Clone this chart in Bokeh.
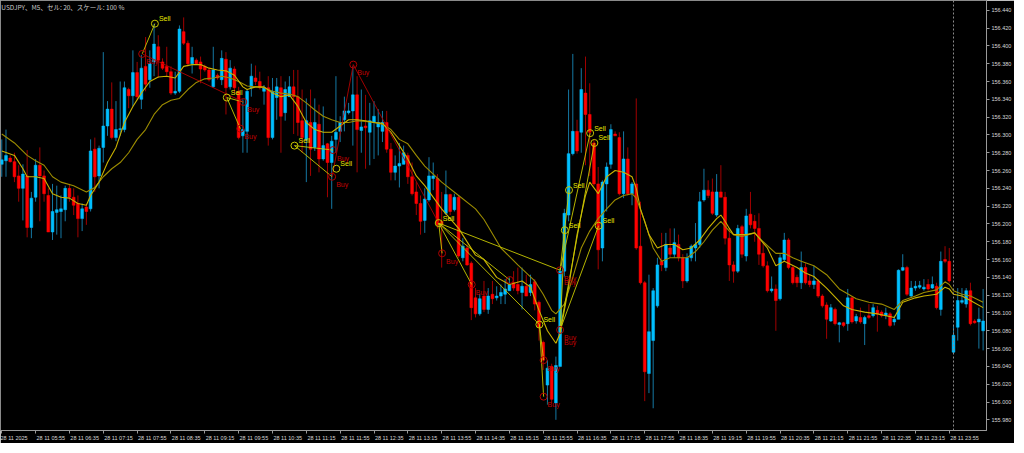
from bokeh.plotting import figure
from bokeh.models import (ColumnDataSource, FixedTicker, Range1d, Span, Label, LinearAxis,
                          NumeralTickFormatter)
from bokeh.embed import file_html
from bokeh.resources import INLINE
from bokeh.core.properties import value

# ---------------- data (USDJPY M5, 28.11.2025 05:15 -> 29.11 00:35) ----------------
opens = [156.267,156.271,156.274,156.270,156.254,156.240,156.254,156.196,156.230,156.266,
156.254,156.232,156.191,156.213,156.214,156.216,156.240,156.230,156.223,156.206,
156.219,156.217,156.284,156.254,156.286,156.310,156.329,156.297,156.306,156.306,
156.351,156.344,156.370,156.340,156.377,156.362,156.382,156.399,156.382,156.377,
156.371,156.347,156.349,156.416,156.403,156.380,156.384,156.382,156.377,156.373,
156.354,156.367,156.362,156.385,156.354,156.374,156.349,156.299,156.304,156.353,
156.364,156.360,156.349,156.353,156.297,156.342,156.353,156.325,156.343,156.354,
156.343,156.316,156.295,156.314,156.286,156.312,156.273,156.290,156.269,156.295,
156.304,156.317,156.325,156.327,156.345,156.305,156.310,156.303,156.314,156.309,
156.304,156.314,156.284,156.258,156.265,156.267,156.277,156.253,156.236,156.223,
156.204,156.227,156.251,156.251,156.203,156.212,156.233,156.216,156.230,156.162,
156.173,156.156,156.117,156.099,156.119,156.104,156.121,156.117,156.119,156.121,
156.125,156.134,156.132,156.123,156.130,156.123,156.135,156.112,156.067,156.019,
156.040,155.999,156.040,156.147,156.210,156.279,156.304,156.303,156.347,156.323,
156.291,156.245,156.173,156.245,156.267,156.301,156.297,156.234,156.273,156.234,
156.245,156.175,156.134,156.032,156.069,156.108,156.158,156.151,156.173,156.166,
156.177,156.162,156.136,156.162,156.173,156.177,156.227,156.238,156.236,156.210,
156.236,156.230,156.184,156.154,156.147,156.197,156.164,156.211,156.203,156.195,
156.167,156.153,156.125,156.127,156.116,156.160,156.182,156.151,156.140,156.134,
156.151,156.136,156.132,156.136,156.119,156.109,156.091,156.104,156.087,156.089,
156.088,156.117,156.091,156.095,156.088,156.097,156.097,156.103,156.101,156.097,
156.099,156.090,156.093,156.148,156.151,156.119,156.128,156.129,156.127,156.132,
156.128,156.130,156.104,156.160,156.158,156.056,156.084,156.112,156.110,156.125,
156.091,156.090,156.080]
highs = [156.295,156.306,156.277,156.280,156.266,156.267,156.283,156.236,156.273,156.286,
156.260,156.240,156.245,156.243,156.232,156.243,156.245,156.240,156.232,156.223,
156.223,156.295,156.297,156.288,156.393,156.338,156.359,156.338,156.360,156.360,
156.353,156.395,156.382,156.390,156.410,156.395,156.425,156.412,156.386,156.399,
156.377,156.371,156.423,156.432,156.406,156.399,156.386,156.388,156.379,156.375,
156.399,156.369,156.395,156.393,156.384,156.377,156.354,156.340,156.351,156.380,
156.378,156.371,156.356,156.366,156.364,156.364,156.366,156.360,156.366,156.373,
156.373,156.351,156.341,156.351,156.341,156.334,156.332,156.291,156.299,156.366,
156.321,156.343,156.336,156.377,156.366,156.351,156.345,156.336,156.338,156.329,
156.327,156.327,156.291,156.277,156.291,156.288,156.280,156.269,156.247,156.232,
156.240,156.275,156.269,156.256,156.236,156.260,156.234,156.234,156.232,156.184,
156.177,156.158,156.128,156.121,156.136,156.128,156.136,156.130,156.132,156.138,
156.140,156.147,156.151,156.151,156.143,156.143,156.138,156.114,156.069,156.047,
156.043,156.051,156.151,156.217,156.351,156.391,156.317,156.375,156.388,156.358,
156.295,156.264,156.249,156.269,156.312,156.304,156.303,156.304,156.286,156.247,
156.341,156.225,156.136,156.143,156.128,156.162,156.190,156.190,156.195,156.195,
156.188,156.166,156.167,156.177,156.201,156.236,156.262,156.249,156.251,156.256,
156.266,156.236,156.195,156.158,156.199,156.199,156.217,156.236,156.210,156.212,
156.180,156.158,156.141,156.132,156.166,156.190,156.184,156.153,156.143,156.169,
156.156,156.143,156.153,156.138,156.121,156.112,156.110,156.106,156.090,156.090,
156.127,156.119,156.099,156.106,156.097,156.110,156.110,156.108,156.103,156.106,
156.101,156.097,156.149,156.166,156.153,156.136,156.136,156.136,156.138,156.138,
156.141,156.134,156.169,156.175,156.173,156.086,156.128,156.128,156.128,156.134,
156.093,156.106,156.127]
lows = [156.253,156.253,156.269,156.247,156.225,156.204,156.185,156.184,156.225,156.203,
156.225,156.191,156.182,156.188,156.184,156.203,156.225,156.210,156.185,156.192,
156.199,156.214,156.236,156.240,156.269,156.299,156.295,156.293,156.299,156.303,
156.330,156.332,156.340,156.329,156.349,156.353,156.366,156.364,156.373,156.366,
156.345,156.345,156.347,156.401,156.377,156.369,156.379,156.358,156.371,156.360,
156.353,156.362,156.356,156.323,156.351,156.347,156.295,156.280,156.280,156.343,
156.356,156.351,156.334,156.288,156.295,156.317,156.280,156.316,156.343,156.301,
156.299,156.280,156.247,156.254,156.282,156.258,156.271,156.230,156.217,156.280,
156.292,156.304,156.323,156.288,156.258,156.280,156.262,156.266,156.273,156.277,
156.292,156.280,156.249,156.249,156.241,156.267,156.245,156.232,156.210,156.188,
156.190,156.225,156.238,156.195,156.151,156.210,156.210,156.214,156.162,156.158,
156.153,156.092,156.095,156.097,156.101,156.099,156.110,156.114,156.110,156.110,
156.125,156.125,156.121,156.104,156.119,156.119,156.103,156.069,156.036,155.997,
155.999,155.980,156.040,156.140,156.203,156.277,156.279,156.280,156.266,156.254,
156.243,156.149,156.158,156.214,156.262,156.299,156.232,156.229,156.232,156.221,
156.171,156.132,156.001,156.010,155.993,156.106,156.147,156.147,156.162,156.162,
156.158,156.128,156.134,156.158,156.158,156.173,156.225,156.229,156.210,156.208,
156.230,156.177,156.136,156.134,156.145,156.162,156.158,156.195,156.180,156.154,
156.151,156.123,156.123,156.080,156.114,156.158,156.149,156.132,156.129,156.127,
156.132,156.129,156.127,156.117,156.106,156.071,156.090,156.086,156.067,156.084,
156.080,156.088,156.088,156.088,156.064,156.093,156.095,156.079,156.095,156.093,
156.084,156.086,156.093,156.147,156.119,156.117,156.125,156.127,156.125,156.125,
156.127,156.104,156.097,156.156,156.134,156.054,156.069,156.110,156.106,156.086,
156.088,156.060,156.058]
closes = [156.272,156.277,156.270,156.253,156.240,156.256,156.196,156.229,156.266,156.254,
156.234,156.191,156.214,156.216,156.217,156.240,156.230,156.221,156.206,156.217,
156.214,156.282,156.253,156.285,156.310,156.329,156.297,156.306,156.307,156.353,
156.344,156.370,156.343,156.375,156.357,156.380,156.402,156.384,156.375,156.371,
156.347,156.349,156.419,156.403,156.380,156.387,156.380,156.374,156.373,156.362,
156.373,156.364,156.386,156.353,156.375,156.353,156.297,156.306,156.349,156.366,
156.360,156.353,156.353,156.297,156.349,156.354,156.321,156.351,156.354,156.343,
156.314,156.297,156.316,156.284,156.314,156.273,156.288,156.269,156.293,156.303,
156.314,156.327,156.327,156.345,156.306,156.309,156.308,156.316,156.321,156.314,
156.314,156.284,156.258,156.265,156.268,156.280,156.253,156.234,156.223,156.203,
156.228,156.254,156.254,156.199,156.199,156.233,156.214,156.230,156.164,156.175,
156.154,156.106,156.099,156.116,156.104,156.119,156.116,156.119,156.123,156.127,
156.132,156.128,156.125,156.130,156.119,156.132,156.110,156.084,156.047,156.038,
156.003,156.041,156.147,156.212,156.279,156.304,156.282,156.351,156.323,156.303,
156.245,156.171,156.247,156.264,156.306,156.299,156.234,156.273,156.234,156.245,
156.173,156.134,156.034,156.079,156.125,156.154,156.154,156.177,156.166,156.179,
156.162,156.136,156.162,156.175,156.177,156.225,156.238,156.232,156.212,156.236,
156.230,156.184,156.154,156.147,156.195,156.166,156.209,156.199,156.195,156.166,
156.153,156.125,156.127,156.114,156.162,156.182,156.151,156.134,156.134,156.151,
156.134,156.132,156.136,156.119,156.108,156.093,156.106,156.088,156.089,156.086,
156.117,156.090,156.096,156.090,156.095,156.095,156.106,156.099,156.097,156.100,
156.086,156.093,156.148,156.151,156.121,156.128,156.130,156.131,156.129,156.127,
156.132,156.106,156.158,156.158,156.136,156.075,156.114,156.114,156.125,156.088,
156.089,156.093,156.091]

# moving averages, read at sample bars
ma_slow_bar = [0,3,6,8,10,12,14,17,20,22,24,26,28,30,32,34,36,38,40,42,44,46,48,50,52,54,56,
58,60,62,64,66,68,70,72,74,76,78,80,82,84,86,88,90,92,94,96,98,100,104,108,112,114,
118,122,126,128,130,131,133,135,137,139,141,143,145,147,149,150,152,154,156,158,160,162,164,166,168,170,172,
173,175,178,180,183,185,187,189,192,195,198,202,205,208,211,213,216,218,221,223,224,225,227,229,232]
ma_slow_val = [156.301,156.291,156.277,156.271,156.266,156.253,156.247,156.243,156.236,156.241,156.253,156.262,156.269,156.280,156.295,156.306,156.323,156.334,156.339,156.341,156.351,156.359,156.363,156.364,156.366,156.364,156.360,
156.355,156.354,156.353,156.349,156.347,156.346,156.343,156.336,156.328,156.321,156.317,156.314,156.314,156.316,156.315,156.314,156.312,156.306,156.295,156.290,156.277,156.265,156.247,156.232,156.217,156.205,
156.173,156.154,156.136,156.121,156.103,156.099,156.110,156.140,156.173,156.192,156.206,156.217,156.227,156.232,156.234,156.229,156.203,156.173,156.158,156.162,156.162,156.162,156.169,156.180,156.193,156.203,156.192,
156.188,156.186,156.190,156.180,156.167,156.167,156.162,156.158,156.153,156.143,156.127,156.116,156.112,156.110,156.104,156.114,156.119,156.123,156.126,156.135,156.132,156.125,156.121,156.119,156.112]
ma_fast_bar = [0,3,5,6,8,10,12,14,16,18,20,21,23,25,27,29,31,33,35,37,39,41,43,45,47,49,51,53,55,57,
58,60,62,64,66,68,70,72,74,76,78,80,82,84,86,88,90,92,94,96,98,100,104,108,112,114,
117,120,123,125,127,129,131,132,134,136,138,139,141,143,145,147,149,150,151,153,155,157,159,161,163,165,167,169,170,171,172,
173,176,178,181,183,185,188,190,192,195,199,201,204,207,211,213,216,218,221,223,224,225,227,229,232]
ma_fast_val = [156.282,156.277,156.262,156.253,156.253,156.251,156.234,156.230,156.229,156.223,156.221,156.232,156.247,156.269,156.286,156.314,156.332,156.347,156.360,156.365,156.366,156.364,156.377,156.379,156.379,156.375,156.373,156.372,156.367,156.354,
156.351,156.354,156.354,156.347,156.343,156.345,156.332,156.314,156.306,156.303,156.303,156.310,156.317,156.317,156.316,156.314,156.313,156.303,156.288,156.273,156.254,156.243,156.217,156.195,156.165,156.160,
156.140,156.132,156.136,156.129,156.103,156.080,156.066,156.077,156.129,156.188,156.232,156.247,156.234,156.253,156.260,156.258,156.253,156.240,156.217,156.188,156.173,156.177,156.177,156.171,156.173,156.182,156.195,156.206,156.210,156.203,156.195,
156.188,156.188,156.190,156.173,156.153,156.158,156.151,156.145,156.141,156.128,156.108,156.104,156.101,156.099,156.095,156.112,156.117,156.119,156.121,156.129,156.127,156.121,156.119,156.114,156.106]

# trade signals
sig_name  = ["B1","S1","S2","B2","B3","S3","B4","B5","S4","B6","S5","B7","B8","B9","S6","B10","B11","B12","B13","S8","S7","S9","S10","S11"]
sig_side  = ["Buy","Sell","Sell","Buy","Buy","Sell","Buy","Buy","Sell","Buy","Sell","Buy","Buy","Buy","Sell","Buy","Buy","Buy","Buy","Sell","Sell","Sell","Sell","Sell"]
sig_bar   = [33.2,36.2,53.2,57.1,56.4,69.2,78.3,78.1,79.1,83.1,103.3,104.1,111.1,120.1,127.1,128.1,128.1,132.0,132.0,133.1,134.1,139.1,140.1,141.1]
sig_price = [156.391,156.425,156.342,156.337,156.307,156.288,156.283,156.253,156.262,156.379,156.201,156.167,156.132,156.137,156.087,156.047,156.006,156.148,156.081,156.193,156.238,156.302,156.291,156.198]
sig_label = [1,1,1,1,1,1,1,1,1,1,1,1,1,0,1,1,1,2,2,1,1,1,1,1]
trade_from = ["B1","S2","S2","S3","S3","S5","S5","S5","S5","S5","S6","S6","B12","B12","B13","B13","B13","B1","B5","B6"]
trade_to   = ["S1","B3","B2","B4","B5","B7","B8","B12","B9","S6","B10","B11","S7","S9","S8","S10","S11","B2","B6","S5"]
trade_col  = ["y","y","y","y","y","y","y","y","y","y","y","y","y","y","y","y","y","r","r","r"]

y_ticks = [155.98,156.00,156.02,156.04,156.06,156.08,156.10,156.12,156.14,156.16,156.18,156.20,
           156.22,156.24,156.26,156.28,156.30,156.32,156.34,156.36,156.38,156.40,156.42,156.44]
x_tick_bars = [0,8,16,24,32,40,48,56,64,72,80,88,96,104,112,120,128,136,144,152,160,168,176,184,192,200,208,216,224]
x_tick_text = ["28 11 2025","28 11 05:55","28 11 06:35","28 11 07:15","28 11 07:55","28 11 08:35",
               "28 11 09:15","28 11 09:55","28 11 10:35","28 11 11:15","28 11 11:55","28 11 12:35",
               "28 11 13:15","28 11 13:55","28 11 14:35","28 11 15:15","28 11 15:55","28 11 16:35",
               "28 11 17:15","28 11 17:55","28 11 18:35","28 11 19:15","28 11 19:55","28 11 20:35",
               "28 11 21:15","28 11 21:55","28 11 22:35","28 11 23:15","28 11 23:55"]
separator_bar = 225
title_text = "USDJPY、M5、セル: 20、スケール: 100 %"

# ---------------- figure ----------------
BULL, BEAR = "#00bfff", "#ff0000"
BULL_W, BEAR_W = "#1578a3", "#a00000"
SELL_C, BUY_C = "#c8c800", "#b00000"
AX_C, LBL_C = "#9a9a9a", "#d8d8d8"
AX_FONT, AX_SIZE = "Liberation Sans", "5.5px"

X0, X1 = -0.3, 232.8
Y0, Y1 = 155.968, 156.451
SCALE = 10

p = figure(width=1014, height=443, x_range=Range1d(X0 * SCALE, X1 * SCALE), y_range=Range1d(Y0, Y1),
           x_axis_location=None, y_axis_location="right", output_backend="svg", toolbar_location=None,
           background_fill_color="black", border_fill_color="black",
           min_border_left=0, min_border_top=0, min_border_right=0, min_border_bottom=0,
           outline_line_color="#8a8a8a")
p.grid.visible = False
# the x axis runs in tenths of a bar so that label anchors are whole numbers
p.x_range.start, p.x_range.end = X0 * SCALE, X1 * SCALE

n = len(opens)
xs = [i * SCALE for i in range(n)]
bull = [c >= o for o, c in zip(opens, closes)]
src = ColumnDataSource(dict(
    x=xs, o=opens, h=highs, l=lows, c=closes,
    top=[max(o, c) for o, c in zip(opens, closes)],
    bot=[min(o, c) for o, c in zip(opens, closes)],
    body=[BULL if b else BEAR for b in bull],
    wick=[BULL_W if b else BEAR_W for b in bull]))

p.add_layout(Span(location=separator_bar * SCALE, dimension="height", line_color="#8a8a8a",
                  line_dash="2 2", line_width=1))

p.segment(x0="x", y0="h", x1="x", y1="l", line_color="wick", line_width=1, source=src)
p.vbar(x="x", width=0.66 * SCALE, top="top", bottom="bot", fill_color="body", line_color="body",
       line_width=0.5, source=src)

p.line([b * SCALE for b in ma_slow_bar], ma_slow_val, line_color="#9c8c00", line_width=1.1)
p.line([b * SCALE for b in ma_fast_bar], ma_fast_val, line_color="#c9b200", line_width=1.1)

pos = {nm: (b * SCALE, pr) for nm, b, pr in zip(sig_name, sig_bar, sig_price)}
for col_key, col in (("y", SELL_C), ("r", BUY_C)):
    sel = [i for i, k in enumerate(trade_col) if k == col_key]
    p.segment(x0=[pos[trade_from[i]][0] for i in sel], y0=[pos[trade_from[i]][1] for i in sel],
              x1=[pos[trade_to[i]][0] for i in sel], y1=[pos[trade_to[i]][1] for i in sel],
              line_color=col, line_width=1, line_alpha=0.9)

for side, col, tcol, dy in (("Sell", SELL_C, "#e6e600", 5), ("Buy", BUY_C, "#c00000", -8)):
    sel = [i for i, s in enumerate(sig_side) if s == side]
    p.scatter([sig_bar[i] * SCALE for i in sel], [sig_price[i] for i in sel], marker="circle", size=7,
              fill_color=None, line_color=col, line_width=1)
    lx, ly, lt = [], [], []
    for i in sel:
        for k in range(sig_label[i]):
            lx.append(sig_bar[i] * SCALE); ly.append(sig_price[i] - k * 0.005); lt.append(side)
    p.text(lx, ly, text=lt, x_offset=4, y_offset=-dy, text_color=tcol,
           text_font=value("Liberation Sans"), text_font_size="7px", text_baseline="middle")

p.add_layout(Label(x=-1, y=156.4495, text=title_text, text_color="#c8c8c8",
                   text_font="Noto Sans CJK JP", text_font_size="6.5px", text_baseline="top"))

# ---- axes ----
def style(ax):
    ax.axis_line_color = AX_C
    ax.major_tick_line_color = AX_C
    ax.minor_tick_line_color = None
    ax.major_tick_in = 0
    ax.major_tick_out = 3
    ax.major_label_text_color = LBL_C
    ax.major_label_text_font = AX_FONT
    ax.major_label_text_font_size = AX_SIZE

# price axis (right): labels left-aligned beside the ticks
style(p.yaxis[0])
p.yaxis[0].ticker = FixedTicker(ticks=y_ticks)
p.yaxis[0].formatter = NumeralTickFormatter(format="0.000")
p.yaxis[0].major_label_standoff = 2

# time axis: tick marks (minor ticks) on the bars, each label starting just right of its tick
label_shift = [2.8] + [3.6] * (len(x_tick_bars) - 1)   # half label width, in bars
lbl_pos = [int(round((b + s) * SCALE)) for b, s in zip(x_tick_bars, label_shift)]
time_axis = LinearAxis(ticker=FixedTicker(ticks=lbl_pos, minor_ticks=[b * SCALE for b in x_tick_bars]),
                       major_label_overrides={k: t for k, t in zip(lbl_pos, x_tick_text)})
style(time_axis)
time_axis.major_tick_line_color = None
time_axis.minor_tick_line_color = AX_C
time_axis.minor_tick_in = 0
time_axis.minor_tick_out = 3
time_axis.major_label_standoff = 1
p.add_layout(time_axis, "below")

open("out.html", "w").write(file_html(p, INLINE))
